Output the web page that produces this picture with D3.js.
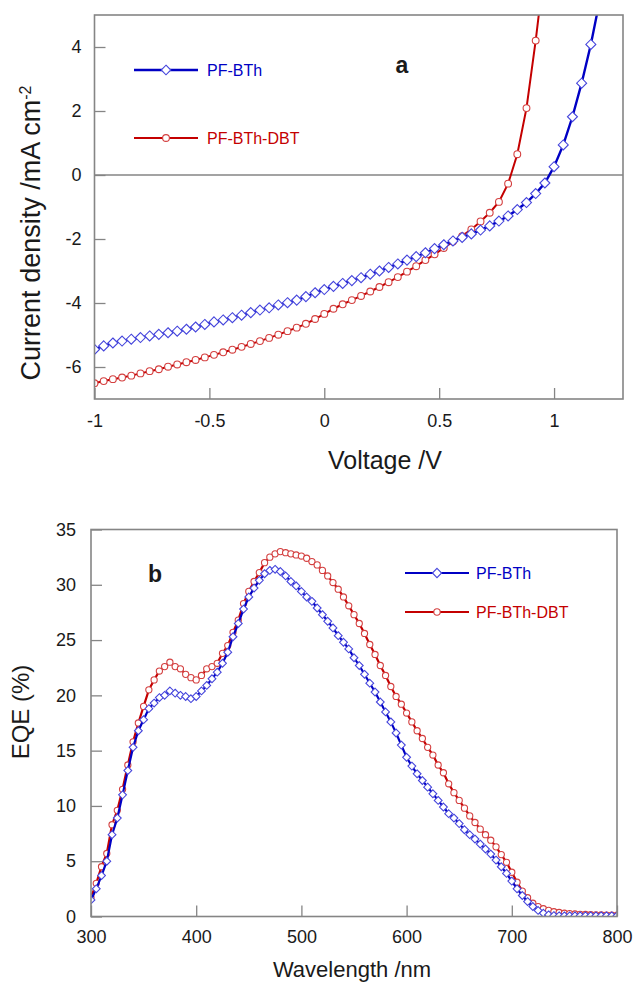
<!DOCTYPE html>
<html>
<head>
<meta charset="utf-8">
<script src="https://cdn.jsdelivr.net/npm/d3@7"></script>
<style>
  body { margin: 0; background: #fff; }
  svg text { font-family: "Liberation Sans", Arial, sans-serif; fill: #1a1a1a; }
</style>
</head>
<body>
<script>

// panel a: J-V curves
var voltage = [-1.00,-0.96,-0.92,-0.88,-0.84,-0.80,-0.76,-0.72,-0.68,-0.64,
               -0.60,-0.56,-0.52,-0.48,-0.44,-0.40,-0.36,-0.32,-0.28,-0.24,
               -0.20,-0.16,-0.12,-0.08,-0.04,0.00,0.04,0.08,0.12,0.16,
               0.20,0.24,0.28,0.32,0.36,0.40,0.44,0.48,0.52,0.56,
               0.60,0.64,0.68,0.72,0.76,0.80,0.84,0.88,0.92,0.96,
               1.00,1.04,1.08,1.12,1.16,1.20];

var jBTh = [-5.45,-5.34,-5.25,-5.19,-5.13,-5.08,-5.03,-4.98,-4.93,-4.88,
            -4.82,-4.75,-4.67,-4.59,-4.53,-4.46,-4.38,-4.30,-4.22,-4.15,
            -4.06,-3.99,-3.91,-3.80,-3.68,-3.58,-3.48,-3.39,-3.30,-3.21,
            -3.10,-3.00,-2.89,-2.78,-2.66,-2.55,-2.43,-2.30,-2.18,-2.06,
            -1.95,-1.84,-1.72,-1.59,-1.44,-1.28,-1.08,-0.86,-0.58,-0.25,
            0.26,0.94,1.82,2.87,4.08,5.50];

var jDBT = [-6.51,-6.44,-6.38,-6.33,-6.27,-6.20,-6.13,-6.07,-5.99,-5.92,
            -5.85,-5.78,-5.70,-5.62,-5.54,-5.46,-5.37,-5.28,-5.19,-5.09,
            -4.99,-4.88,-4.77,-4.65,-4.50,-4.34,-4.18,-4.04,-3.91,-3.78,
            -3.64,-3.50,-3.35,-3.19,-3.02,-2.85,-2.66,-2.48,-2.28,-2.08,
            -1.91,-1.70,-1.45,-1.18,-0.84,-0.27,0.65,2.09,4.20,6.60];

var voltTicks = [-1, -0.5, 0, 0.5, 1];
var jTicks = [-6, -4, -2, 0, 2, 4];

// panel b: EQE spectra
var wavelength = [300,305,310,315,320,325,330,335,340,345,
                  350,355,360,365,370,375,380,385,390,395,
                  400,405,410,415,420,425,430,435,440,445,
                  450,455,460,465,470,475,480,485,490,495,
                  500,505,510,515,520,525,530,535,540,545,
                  550,555,560,565,570,575,580,585,590,595,
                  600,605,610,615,620,625,630,635,640,645,
                  650,655,660,665,670,675,680,685,690,695,
                  700,705,710,715,720,725,730,735,740,745,
                  750,755,760,765,770,775,780,785,790,795,
                  800];

var eqeBTh = [1.5,2.5,3.7,5.0,7.4,8.9,11.0,13.2,15.3,16.8,
              17.8,18.8,19.3,19.8,20.0,20.4,20.2,20.0,19.9,19.7,
              19.9,20.4,20.9,21.5,22.1,22.9,23.9,25.3,26.5,27.8,
              28.9,29.7,30.4,31.0,31.3,31.4,31.2,30.8,30.3,29.9,
              29.4,28.9,28.5,27.9,27.3,26.7,26.1,25.4,24.8,24.2,
              23.4,22.7,21.9,21.1,20.3,19.4,18.5,17.6,16.6,15.5,
              14.4,13.6,12.9,12.3,11.7,11.1,10.5,9.9,9.3,8.9,
              8.4,7.85,7.4,7.0,6.55,6.1,5.65,5.1,4.5,3.9,
              3.2,2.5,1.9,1.35,0.9,0.55,0.3,0.15,0.08,0.06,
              0.06,0.06,0.06,0.06,0.06,0.06,0.06,0.06,0.06,0.06,
              0.06];

var eqeDBT = [1.7,3.0,4.5,5.7,8.3,9.6,11.5,13.7,15.8,17.5,
              19.0,20.5,21.4,22.2,22.6,23.0,22.6,22.4,21.9,21.6,
              21.4,21.8,22.4,22.6,22.9,23.8,24.5,25.7,26.8,28.3,
              29.4,30.3,31.1,32.0,32.5,32.8,33.0,32.9,32.8,32.7,
              32.6,32.4,32.1,31.8,31.3,30.8,30.2,29.6,28.9,28.1,
              27.3,26.5,25.6,24.6,23.7,22.7,21.8,20.8,19.9,19.2,
              18.4,17.6,16.8,16.1,15.3,14.6,13.7,13.0,12.0,11.2,
              10.5,9.8,9.1,8.5,7.9,7.4,6.9,6.3,5.6,4.9,
              4.0,3.1,2.3,1.7,1.2,0.9,0.7,0.55,0.43,0.36,
              0.30,0.26,0.23,0.20,0.18,0.16,0.15,0.14,0.13,0.13,
              0.12];

var wlTicks = [300, 400, 500, 600, 700, 800];
var eqeTicks = [0, 5, 10, 15, 20, 25, 30, 35];

var seriesNames = ["PF-BTh", "PF-BTh-DBT"];

// colours
var blueLine = "#0000c4", blueMark = "#4646dc";
var redLine = "#c40000", redMark = "#d44040";
var frameCol = "#858585";

var svg = d3.select("body")
            .append("svg")
            .attr("width", 634)
            .attr("height", 984);

// diamond marker path
function diamond(cx, cy, r)
{
  return "M" + cx + "," + (cy - r) + "L" + (cx + r) + "," + cy +
         "L" + cx + "," + (cy + r) + "L" + (cx - r) + "," + cy + "Z";
}

// axes with inside ticks, no domain line
function styleaxis(g, size)
{
  g.select(".domain").remove();
  g.selectAll(".tick line").attr("stroke", frameCol).attr("stroke-width", 1.3);
  g.selectAll(".tick text").style("font-size", size + "px").attr("fill", "#1a1a1a");
}

function drawpanel(opt)
{
  var x = opt.x, y = opt.y;
  var x0 = x.range()[0], x1 = x.range()[1];
  var y0 = y.range()[1], y1 = y.range()[0];

  svg.append("clipPath")
     .attr("id", opt.id)
     .append("rect")
     .attr("x", x0).attr("y", y0)
     .attr("width", x1 - x0).attr("height", y1 - y0);

  svg.append("g")
     .attr("transform", "translate(0," + y1 + ")")
     .call(d3.axisBottom(x).tickValues(opt.xticks).tickFormat(function(d) { return String(d); })
             .tickSize(-11).tickPadding(opt.xpad))
     .call(function(g) { styleaxis(g, 18); });

  svg.append("g")
     .attr("transform", "translate(" + x0 + ",0)")
     .call(d3.axisLeft(y).tickValues(opt.yticks).tickFormat(function(d) { return String(d); })
             .tickSize(-11).tickPadding(opt.ypad))
     .call(function(g) { styleaxis(g, 18); });

  var plot = svg.append("g").attr("clip-path", "url(#" + opt.id + ")");

  if (opt.zero)
  {
    plot.append("line")
        .attr("x1", x0).attr("x2", x1)
        .attr("y1", y(0)).attr("y2", y(0))
        .attr("stroke", frameCol).attr("stroke-width", 1.5);
  }

  var line = d3.line()
               .x(function(d) { return x(d[0]); })
               .y(function(d) { return y(d[1]); });

  opt.series.forEach(function(s)
  {
    plot.append("path")
        .datum(s.data)
        .attr("d", line)
        .attr("fill", "none")
        .attr("stroke", s.line)
        .attr("stroke-width", s.width);

    if (s.shape == "circle")
    {
      plot.selectAll(null)
          .data(s.data)
          .enter().append("circle")
          .attr("cx", function(d) { return x(d[0]); })
          .attr("cy", function(d) { return y(d[1]); })
          .attr("r", s.size)
          .attr("fill", "#fff")
          .attr("stroke", s.mark)
          .attr("stroke-width", 1.1);
    }
    else
    {
      plot.selectAll(null)
          .data(s.data)
          .enter().append("path")
          .attr("d", function(d) { return diamond(x(d[0]), y(d[1]), s.size); })
          .attr("fill", "#fff")
          .attr("stroke", s.mark)
          .attr("stroke-width", 1.1);
    }
  });

  // frame
  svg.append("rect")
     .attr("x", x0).attr("y", y0)
     .attr("width", x1 - x0).attr("height", y1 - y0)
     .attr("fill", "none")
     .attr("stroke", frameCol)
     .attr("stroke-width", 1.6);

  // legend
  opt.series.forEach(function(s, i)
  {
    var ly = opt.legend.y[i];
    svg.append("line")
       .attr("x1", opt.legend.x1).attr("x2", opt.legend.x2)
       .attr("y1", ly).attr("y2", ly)
       .attr("stroke", s.line).attr("stroke-width", s.width);
    var mx = (opt.legend.x1 + opt.legend.x2) / 2;
    if (s.shape == "circle")
    {
      svg.append("circle").attr("cx", mx).attr("cy", ly).attr("r", s.legsize)
         .attr("fill", "#fff").attr("stroke", s.mark).attr("stroke-width", 1.1);
    }
    else
    {
      svg.append("path").attr("d", diamond(mx, ly, s.legsize))
         .attr("fill", "#fff").attr("stroke", s.mark).attr("stroke-width", 1.1);
    }
    svg.append("text")
       .attr("x", opt.legend.tx).attr("y", ly)
       .attr("dy", "0.36em")
       .style("font-size", "16px")
       .style("fill", s.line)
       .text(s.name);
  });

  // panel letter
  svg.append("text")
     .attr("x", opt.letter[0]).attr("y", opt.letter[1])
     .attr("text-anchor", "middle")
     .style("font-size", "23px")
     .style("font-weight", "bold")
     .text(opt.letter[2]);
}

// panel a
drawpanel({
  id: "clipa",
  x: d3.scaleLinear().domain([-1, 1.3]).range([94.5, 623]),
  y: d3.scaleLinear().domain([-7, 5]).range([399, 15]),
  xticks: voltTicks, yticks: jTicks, xpad: 15, ypad: 13,
  zero: true,
  series: [
    { name: seriesNames[1], shape: "circle", line: redLine, mark: redMark, width: 2, size: 3.4, legsize: 3.4,
      data: jDBT.map(function(v, i) { return [voltage[i], v]; }) },
    { name: seriesNames[0], shape: "diamond", line: blueLine, mark: blueMark, width: 2.4, size: 5, legsize: 4.8,
      data: jBTh.map(function(v, i) { return [voltage[i], v]; }) }
  ],
  legend: { x1: 134, x2: 198, tx: 207, y: [138, 70] },
  letter: [402, 73, "a"]
});

// panel b
drawpanel({
  id: "clipb",
  x: d3.scaleLinear().domain([300, 800]).range([91, 617]),
  y: d3.scaleLinear().domain([0, 35]).range([916.5, 529.5]),
  xticks: wlTicks, yticks: eqeTicks, xpad: 14, ypad: 15,
  zero: false,
  series: [
    { name: seriesNames[1], shape: "circle", line: redLine, mark: redMark, width: 2.2, size: 3.1, legsize: 3.2,
      data: eqeDBT.map(function(v, i) { return [wavelength[i], v]; }) },
    { name: seriesNames[0], shape: "diamond", line: blueLine, mark: blueMark, width: 2.2, size: 3.9, legsize: 4.6,
      data: eqeBTh.map(function(v, i) { return [wavelength[i], v]; }) }
  ],
  legend: { x1: 405, x2: 469, tx: 476, y: [612, 573] },
  letter: [155, 582, "b"]
});

// axis titles
svg.append("text")
   .attr("x", 385).attr("y", 469)
   .attr("text-anchor", "middle")
   .style("font-size", "25px")
   .text("Voltage /V");

var ttl = svg.append("text")
   .attr("transform", "translate(40,233) rotate(-90)")
   .attr("text-anchor", "middle")
   .style("font-size", "27px");
ttl.append("tspan").text("Current density /mA cm");
ttl.append("tspan").attr("dy", "-0.55em").style("font-size", "16px").text("-2");

svg.append("text")
   .attr("x", 352).attr("y", 977)
   .attr("text-anchor", "middle")
   .style("font-size", "22px")
   .text("Wavelength /nm");

svg.append("text")
   .attr("transform", "translate(29,712) rotate(-90)")
   .attr("text-anchor", "middle")
   .style("font-size", "24px")
   .text("EQE (%)");

</script>
</body>
</html>
